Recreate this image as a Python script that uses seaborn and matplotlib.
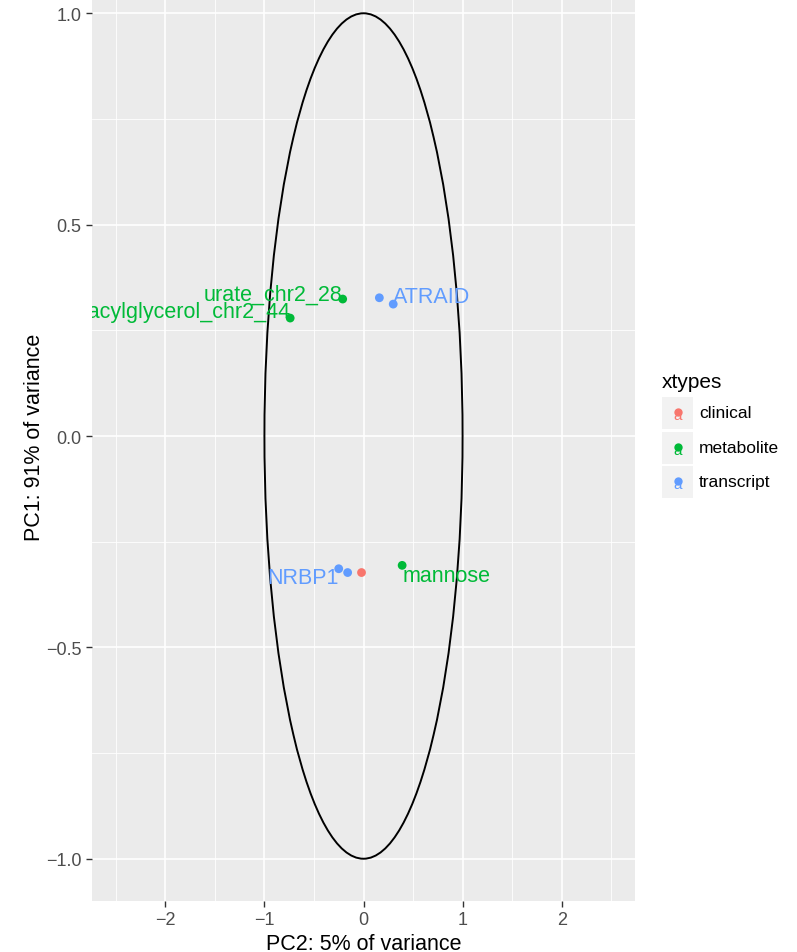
import numpy as np
import pandas as pd
import matplotlib
matplotlib.use("Agg")
import matplotlib.pyplot as plt
from matplotlib.patches import Rectangle, Ellipse
import seaborn as sns

# ---- data ----
pc2 = [-0.02, -0.21, -0.74, 0.39, 0.16, 0.30, -0.25, -0.16]
pc1 = [-0.323, 0.324, 0.279, -0.306, 0.327, 0.312, -0.314, -0.323]
xtypes = ["clinical", "metabolite", "metabolite", "metabolite",
          "transcript", "transcript", "transcript", "transcript"]
labels = ["", "urate_chr2_28", "diacylglycerol_chr2_44", "mannose",
          "", "ATRAID", "NRBP1", ""]
label_dy = [0, 3.5, 5.0, -7.0, 0, 5.5, -6.5, 0]  # vertical nudge (points)
categories = ["clinical", "metabolite", "transcript"]
colors = ["#F8766D", "#00BA38", "#619CFF"]
xticks = [-2, -1, 0, 1, 2]
yticks = [-1.0, -0.5, 0.0, 0.5, 1.0]
xlabel = "PC2: 5% of variance"
ylabel = "PC1: 91% of variance"
legend_title = "xtypes"

df = pd.DataFrame({"PC2": pc2, "PC1": pc1, "xtypes": xtypes, "label": labels})
palette = dict(zip(categories, colors))

W, H = 797, 953
fig = plt.figure(figsize=(W / 100, H / 100), dpi=100)
plt.rcParams["font.family"] = ["Liberation Sans", "DejaVu Sans"]

def fx(px):
    return px / W

def fy(py):
    return (H - py) / H

ax_l, ax_r, ax_b, ax_t = 92, 635, 902, -28
ax = fig.add_axes([fx(ax_l), fy(ax_b), fx(ax_r) - fx(ax_l), fy(ax_t) - fy(ax_b)])
ax.set_facecolor("#EBEBEB")
ax.set_xlim(-2.74, 2.74)
ax.set_ylim(-1.1, 1.1)

# grid
for v in np.arange(-2.5, 2.6, 1.0):
    ax.axvline(v, color="white", lw=0.6, zorder=0)
for v in np.arange(-0.75, 0.8, 0.5):
    ax.axhline(v, color="white", lw=0.6, zorder=0)
for v in xticks:
    ax.axvline(v, color="white", lw=1.2, zorder=0)
for v in yticks:
    ax.axhline(v, color="white", lw=1.2, zorder=0)

# ellipse (unit circle in data space)
ax.add_patch(Ellipse((0, 0), 2, 2, facecolor="none", edgecolor="black",
                     lw=1.4, zorder=1))

sns.scatterplot(data=df, x="PC2", y="PC1", hue="xtypes", palette=palette,
                hue_order=categories, s=40, edgecolor="none", ax=ax,
                legend=False, zorder=3)

for x, y, lab, c, dy in zip(pc2, pc1, labels, xtypes, label_dy):
    if not lab:
        continue
    ha = "right" if x < 0 else "left"
    ax.annotate(lab, (x, y), xytext=(0, dy), textcoords="offset points",
                ha=ha, va="center", color=palette[c], fontsize=15.5,
                annotation_clip=False, clip_on=True, zorder=4)

for s in ax.spines.values():
    s.set_visible(False)
ax.set_xticks(xticks)
ax.set_xticklabels([("−" if v < 0 else "") + str(abs(v)) for v in xticks])
ax.set_yticks(yticks)
ax.set_yticklabels([("−" if v < 0 else "") + f"{abs(v):.1f}" for v in yticks])
ax.tick_params(axis="both", colors="#333333", labelcolor="#4D4D4D",
               labelsize=13, length=4, width=1)
ax.set_xlabel(xlabel, fontsize=15.5, color="black", labelpad=3)
ax.set_ylabel(ylabel, fontsize=15.5, color="black")
axw = ax_r - ax_l
axh = ax_b - ax_t
ax.yaxis.set_label_coords((45 - ax_l) / axw, (ax_b - 437) / axh)

# legend (manual, ggplot style)
fig.text(fx(662), fy(382), legend_title, fontsize=15, va="center", ha="left")
key_tops = [398, 433, 467]
for cat, col, top in zip(categories, colors, key_tops):
    fig.add_artist(Rectangle((fx(662), fy(top + 32)), fx(31), fy(top) - fy(top + 32),
                             transform=fig.transFigure, facecolor="#F2F2F2",
                             edgecolor="none"))
    cx, cy = 677.5, top + 16
    fig.text(fx(cx), fy(cy + 2), "a", fontsize=11, color=col, ha="center",
             va="center")
    fig.add_artist(plt.Line2D([fx(cx)], [fy(cy - 1)], marker="o", markersize=6,
                              color=col, markeredgewidth=0,
                              transform=fig.transFigure))
    fig.text(fx(699), fy(cy), cat, fontsize=12.5, color="black", ha="left",
             va="center")

fig.savefig("out.png", dpi=100)
